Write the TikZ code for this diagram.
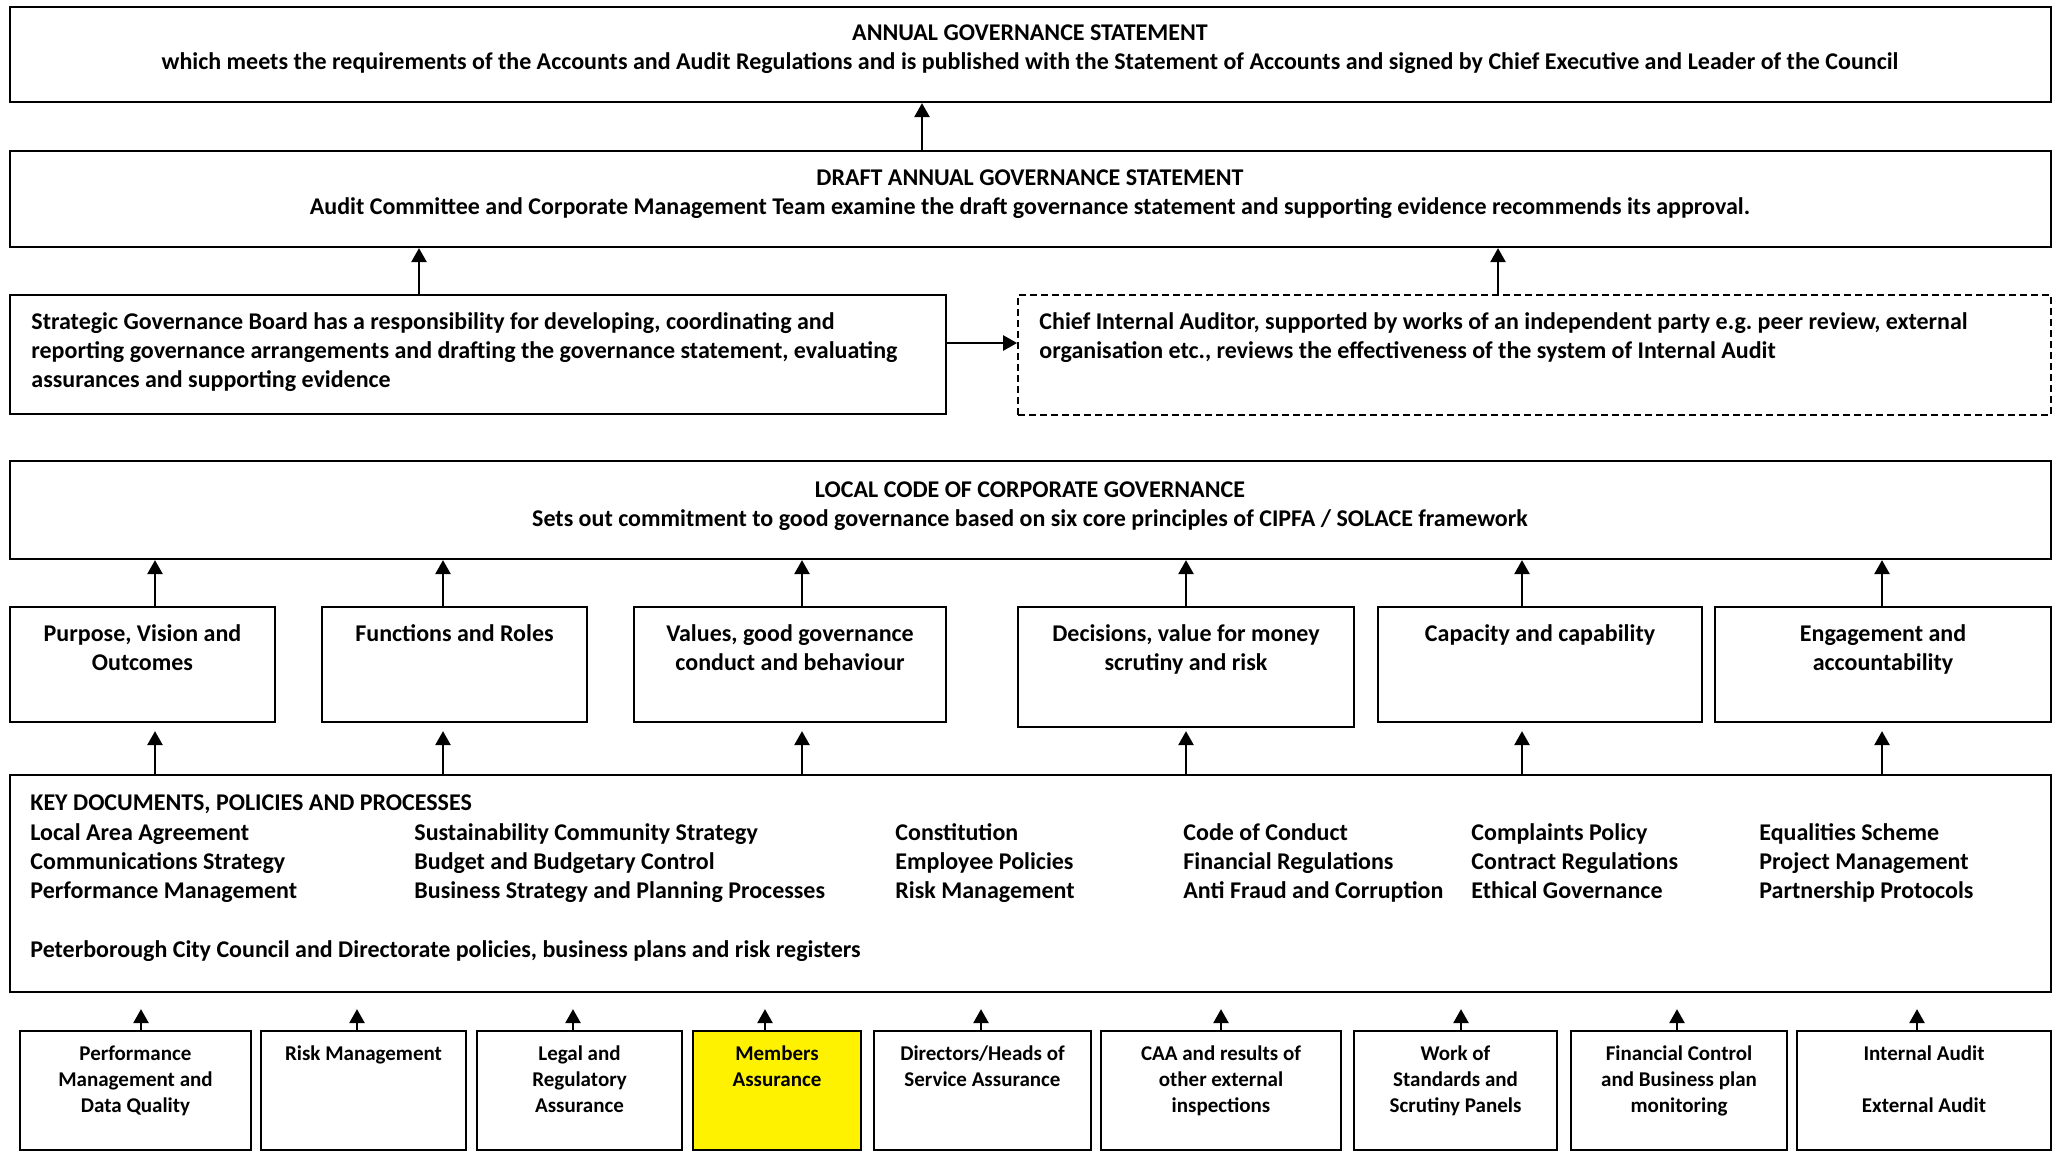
\documentclass[tikz,border=0pt]{standalone}
\usepackage{fontspec}
\setmainfont{Carlito}
\usetikzlibrary{arrows.meta,fit}
\begin{document}
\begin{tikzpicture}[x=0.5pt,y=-0.5pt,
  box/.style={draw, line width=1.1pt, inner sep=0pt},
  dbox/.style={draw, line width=0.9pt, dash pattern=on 3.5pt off 2pt, inner sep=0pt},
  ybox/.style={box, fill=yellow},
  txt/.style={font=\fontsize{12}{14.5}\selectfont\bfseries, inner sep=0pt, align=center, anchor=base},
  ltxt/.style={font=\fontsize{12}{14.5}\selectfont\bfseries, inner sep=0pt, align=left, anchor=base west},
  stxt/.style={font=\fontsize{10.5}{13}\selectfont\bfseries, inner sep=0pt, align=center, anchor=base},
  arr/.style={line width=1.25pt, -{Triangle[length=7pt,width=7.5pt]}}
]
\path[use as bounding box, fill=white] (0,0) rectangle (2054,1152);

% column coordinates for connectors
\coordinate (xa) at (922,0);
\coordinate (xb) at (419,0);
\coordinate (xc) at (1498,0);
\coordinate (yh) at (0,343);
\coordinate (c1) at (155,0);
\coordinate (c2) at (443,0);
\coordinate (c3) at (802,0);
\coordinate (c4) at (1186,0);
\coordinate (c5) at (1522,0);
\coordinate (c6) at (1882,0);
\coordinate (d1) at (141,0);
\coordinate (d2) at (357,0);
\coordinate (d3) at (573,0);
\coordinate (d4) at (765,0);
\coordinate (d5) at (981,0);
\coordinate (d6) at (1221,0);
\coordinate (d7) at (1461,0);
\coordinate (d8) at (1677,0);
\coordinate (d9) at (1917,0);

% boxes
\node[box, fit={(10,7) (2051,102)}] (ags) {};
\node[box, fit={(10,151) (2051,247)}] (dags) {};
\node[box, fit={(10,295) (946,414)}] (sgb) {};
\node[dbox, fit={(1018,295) (2051,415)}] (cia) {};
\node[box, fit={(10,461) (2051,559)}] (lcg) {};
\node[box, fit={(10,607) (275,722)}] (p1) {};
\node[box, fit={(322,607) (587,722)}] (p2) {};
\node[box, fit={(634,607) (946,722)}] (p3) {};
\node[box, fit={(1018,607) (1354,727)}] (p4) {};
\node[box, fit={(1378,607) (1702,722)}] (p5) {};
\node[box, fit={(1715,607) (2051,722)}] (p6) {};
\node[box, fit={(10,775) (2051,992)}] (kd) {};
\node[box, fit={(20,1031) (251,1150)}] (b1) {};
\node[box, fit={(261,1031) (466,1150)}] (b2) {};
\node[box, fit={(477,1031) (682,1150)}] (b3) {};
\node[ybox, fit={(693,1031) (861,1150)}] (b4) {};
\node[box, fit={(874,1031) (1091,1150)}] (b5) {};
\node[box, fit={(1101,1031) (1341,1150)}] (b6) {};
\node[box, fit={(1354,1031) (1557,1150)}] (b7) {};
\node[box, fit={(1571,1031) (1787,1150)}] (b8) {};
\node[box, fit={(1797,1031) (2051,1150)}] (b9) {};

% texts (anchor base = baseline of the last line)
\node[txt] (agsT) at (1030,69) {ANNUAL GOVERNANCE STATEMENT\\which meets the requirements of the Accounts and Audit Regulations and is published with the Statement of Accounts and signed by Chief Executive and Leader of the Council};
\node[txt] (dagsT) at (1030,214) {DRAFT ANNUAL GOVERNANCE STATEMENT\\Audit Committee and Corporate Management Team examine the draft governance statement and supporting evidence recommends its approval.};
\node[ltxt] (sgbT) at (31,387) {Strategic Governance Board has a responsibility for developing, coordinating and\\reporting governance arrangements and drafting the governance statement, evaluating\\assurances and supporting evidence};
\node[ltxt] (ciaT) at (1039,358) {Chief Internal Auditor, supported by works of an independent party e.g.\ peer review, external\\organisation etc., reviews the effectiveness of the system of Internal Audit};
\node[txt] (lcgT) at (1030,526) {LOCAL CODE OF CORPORATE GOVERNANCE\\Sets out commitment to good governance based on six core principles of CIPFA / SOLACE framework};

\node[txt] (p1T) at ([yshift=-32.5pt]p1.north) {Purpose, Vision and\\Outcomes};
\node[txt] (p2T) at ([yshift=-18pt]p2.north) {Functions and Roles};
\node[txt] (p3T) at ([yshift=-32.5pt]p3.north) {Values, good governance\\conduct and behaviour};
\node[txt] (p4T) at ([yshift=-32.5pt]p4.north) {Decisions, value for money\\scrutiny and risk};
\node[txt] (p5T) at ([yshift=-18pt]p5.north) {Capacity and capability};
\node[txt] (p6T) at ([yshift=-32.5pt]p6.north) {Engagement and\\accountability};

\node[ltxt] (kdH) at (30,810) {KEY DOCUMENTS, POLICIES AND PROCESSES};
\node[ltxt] (kd1) at (30,898) {Local Area Agreement\\Communications Strategy\\Performance Management};
\node[ltxt] (kd2) at (414,898) {Sustainability Community Strategy\\Budget and Budgetary Control\\Business Strategy and Planning Processes};
\node[ltxt] (kd3) at (895,898) {Constitution\\Employee Policies\\Risk Management};
\node[ltxt] (kd4) at (1183,898) {Code of Conduct\\Financial Regulations\\Anti Fraud and Corruption};
\node[ltxt] (kd5) at (1471,898) {Complaints Policy\\Contract Regulations\\Ethical Governance};
\node[ltxt] (kd6) at (1759,898) {Equalities Scheme\\Project Management\\Partnership Protocols};
\node[ltxt] (kdF) at (30,957) {Peterborough City Council and Directorate policies, business plans and risk registers};

\node[stxt] (b1T) at ([yshift=-41.5pt]b1.north) {Performance\\Management and\\Data Quality};
\node[stxt] (b2T) at ([yshift=-15.5pt]b2.north) {Risk Management};
\node[stxt] (b3T) at ([yshift=-41.5pt]b3.north) {Legal and\\Regulatory\\Assurance};
\node[stxt] (b4T) at ([yshift=-28.5pt]b4.north) {Members\\Assurance};
\node[stxt] (b5T) at ([yshift=-28.5pt]b5.north) {Directors/Heads of\\Service Assurance};
\node[stxt] (b6T) at ([yshift=-41.5pt]b6.north) {CAA and results of\\other external\\inspections};
\node[stxt] (b7T) at ([yshift=-41.5pt]b7.north) {Work of\\Standards and\\Scrutiny Panels};
\node[stxt] (b8T) at ([yshift=-41.5pt]b8.north) {Financial Control\\and Business plan\\monitoring};
\node[stxt] (b9T) at ([yshift=-41.5pt]b9.north) {Internal Audit\\[13pt]External Audit};

% connectors
\draw[arr] (dags.north -| xa) -- (ags.south -| xa);
\draw[arr] (sgb.north -| xb) -- (dags.south -| xb);
\draw[arr] (cia.north -| xc) -- (dags.south -| xc);
\draw[arr] (sgb.east |- yh) -- (cia.west |- yh);

\draw[arr] (p1.north -| c1) -- (lcg.south -| c1);
\draw[arr] (p2.north -| c2) -- (lcg.south -| c2);
\draw[arr] (p3.north -| c3) -- (lcg.south -| c3);
\draw[arr] (p4.north -| c4) -- (lcg.south -| c4);
\draw[arr] (p5.north -| c5) -- (lcg.south -| c5);
\draw[arr] (p6.north -| c6) -- (lcg.south -| c6);

\draw[arr] (kd.north -| c1) -- ([yshift=-4pt]p1.south -| c1);
\draw[arr] (kd.north -| c2) -- ([yshift=-4pt]p2.south -| c2);
\draw[arr] (kd.north -| c3) -- ([yshift=-4pt]p3.south -| c3);
\draw[arr] (kd.north -| c4) -- ([yshift=-1.5pt]p4.south -| c4);
\draw[arr] (kd.north -| c5) -- ([yshift=-4pt]p5.south -| c5);
\draw[arr] (kd.north -| c6) -- ([yshift=-4pt]p6.south -| c6);

\draw[arr] (b1.north -| d1) -- ([yshift=-8pt]kd.south -| d1);
\draw[arr] (b2.north -| d2) -- ([yshift=-8pt]kd.south -| d2);
\draw[arr] (b3.north -| d3) -- ([yshift=-8pt]kd.south -| d3);
\draw[arr] (b4.north -| d4) -- ([yshift=-8pt]kd.south -| d4);
\draw[arr] (b5.north -| d5) -- ([yshift=-8pt]kd.south -| d5);
\draw[arr] (b6.north -| d6) -- ([yshift=-8pt]kd.south -| d6);
\draw[arr] (b7.north -| d7) -- ([yshift=-8pt]kd.south -| d7);
\draw[arr] (b8.north -| d8) -- ([yshift=-8pt]kd.south -| d8);
\draw[arr] (b9.north -| d9) -- ([yshift=-8pt]kd.south -| d9);
\end{tikzpicture}
\end{document}
